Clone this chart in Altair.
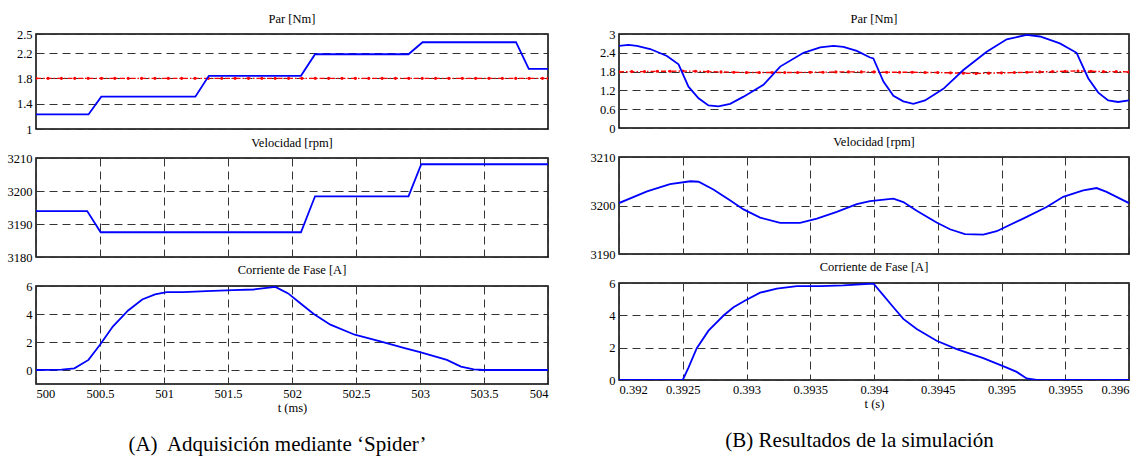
import altair as alt
import pandas as pd

SERIF = "Liberation Serif"
BLUE = "#0000ff"
RED = "#ff0000"

# ---------- (A) bench acquisition, time in ms ----------
ta_par = [500.0, 500.41, 500.51, 501.245, 501.35, 502.07, 502.18, 502.91, 503.02, 503.75, 503.85, 504.0]
par_a = [1.23, 1.23, 1.51, 1.51, 1.84, 1.84, 2.18, 2.18, 2.37, 2.37, 1.95, 1.95]

# torque set-point, flat, sampled by the logger
ta_ref = [500.0] + [round(500.094 + k * 0.1044, 4) for k in range(38)] + [504.0]
ref_a = [1.8] * len(ta_ref)

ta_vel = [500.0, 500.40, 500.505, 502.07, 502.18, 502.91, 503.01, 504.0]
vel_a = [3193.9, 3193.9, 3187.5, 3187.5, 3198.4, 3198.4, 3208.1, 3208.1]

ta_cur = [500.0, 500.2, 500.3, 500.41, 500.5, 500.6, 500.72, 500.83, 500.93, 501.02,
          501.15, 501.33, 501.54, 501.70, 501.87, 501.97, 502.06, 502.17, 502.30, 502.49,
          502.69, 502.88, 503.0, 503.21, 503.32, 503.42, 503.5, 504.0]
cur_a = [0.0, 0.02, 0.12, 0.72, 1.8, 3.1, 4.25, 5.04, 5.4, 5.56,
         5.56, 5.63, 5.7, 5.75, 5.94, 5.47, 4.8, 4.0, 3.24, 2.52,
         2.04, 1.56, 1.27, 0.72, 0.24, 0.05, 0.0, 0.0]

# ---------- (B) simulation, time in s ----------
tb_par = [0.392, 0.392075, 0.39214, 0.392245, 0.392376, 0.392467, 0.392545, 0.392624, 0.392702, 0.39278,
          0.392872, 0.392977, 0.393133, 0.393264, 0.393447, 0.393578, 0.393682, 0.39376, 0.393865, 0.393969,
          0.393995, 0.394074, 0.394152, 0.39423, 0.394309, 0.3944, 0.394544, 0.394701, 0.394884, 0.395041,
          0.395197, 0.395302, 0.395458, 0.395589, 0.39568, 0.395759, 0.395837, 0.395915, 0.396]
par_b = [2.62, 2.65, 2.62, 2.52, 2.30, 2.03, 1.32, 0.95, 0.72, 0.69,
         0.77, 1.0, 1.38, 1.96, 2.40, 2.57, 2.62, 2.59, 2.46, 2.25,
         2.22, 1.48, 1.03, 0.85, 0.77, 0.88, 1.25, 1.85, 2.43, 2.83,
         2.97, 2.92, 2.70, 2.40, 1.59, 1.13, 0.88, 0.83, 0.88]

tb_ref = [round(0.392 + k * 0.0001, 4) for k in range(41)]
ref_b = [1.79, 1.80, 1.80, 1.81, 1.81, 1.82, 1.81, 1.80, 1.79, 1.78,
         1.77, 1.77, 1.77, 1.77, 1.77, 1.78, 1.78, 1.79, 1.79, 1.79,
         1.79, 1.78, 1.78, 1.78, 1.77, 1.77, 1.76, 1.75, 1.74, 1.75,
         1.76, 1.77, 1.78, 1.79, 1.80, 1.81, 1.82, 1.81, 1.80, 1.80, 1.79]

tb_vel = [0.392, 0.39222, 0.3924, 0.39256, 0.392624, 0.39274, 0.39287, 0.392977, 0.393107, 0.393264,
          0.39342, 0.393552, 0.393708, 0.393865, 0.393969, 0.394152, 0.39423, 0.394335, 0.394491, 0.394596,
          0.394713, 0.394857, 0.394962, 0.39517, 0.395354, 0.395484, 0.395641, 0.395746, 0.395824, 0.396]
vel_b = [3200.5, 3202.9, 3204.4, 3205.0, 3204.9, 3203.3, 3201.1, 3199.2, 3197.5, 3196.4,
         3196.4, 3197.3, 3198.7, 3200.3, 3200.9, 3201.4, 3200.7, 3198.9, 3196.5, 3195.1,
         3194.1, 3194.0, 3194.7, 3197.3, 3199.7, 3201.8, 3203.1, 3203.6, 3202.8, 3200.5]

tb_cur = [0.392, 0.3925, 0.392545, 0.39261, 0.392702, 0.39282, 0.392898, 0.39299, 0.393107, 0.393238,
          0.393395, 0.393578, 0.39376, 0.393995, 0.394074, 0.394152, 0.39423, 0.394335, 0.394491, 0.394649,
          0.394857, 0.395041, 0.395119, 0.395197, 0.395276, 0.396]
cur_b = [0.0, 0.0, 0.77, 1.97, 3.05, 3.99, 4.5, 4.92, 5.4, 5.65,
         5.81, 5.81, 5.85, 5.97, 5.23, 4.5, 3.78, 3.16, 2.43, 1.91,
         1.35, 0.77, 0.5, 0.1, 0.0, 0.0]

xa_ticks = [500, 500.5, 501, 501.5, 502, 502.5, 503, 503.5, 504]
xb_ticks = [0.392, 0.3925, 0.393, 0.3935, 0.394, 0.3945, 0.395, 0.3955, 0.396]

GRID = dict(grid=True, gridColor="#333333", gridDash=[8, 5], gridWidth=1, gridOpacity=1)


def panel(t, v, title, xdom, xticks, ydom, yticks, w, h, row, toff, yfmt="~g", xtitle=None, ref=None):
    base = pd.DataFrame({"t": t, "v": v})
    if row == 0:
        xaxis = None
    elif row == 1:
        xaxis = alt.Axis(labels=False, ticks=False, domain=False, values=xticks, title=None, **GRID)
    else:
        xaxis = alt.Axis(values=xticks, ticks=False, domain=False, title=xtitle, format="~g",
                         labelPadding=3, titlePadding=2, **GRID)
    yaxis = alt.Axis(values=yticks, ticks=False, domain=False, title=None, format=yfmt,
                     labelPadding=4, **GRID)
    xs = alt.Scale(domain=xdom, nice=False, zero=False)
    ys = alt.Scale(domain=ydom, nice=False, zero=False)
    enc = dict(x=alt.X("t:Q", scale=xs, axis=xaxis), y=alt.Y("v:Q", scale=ys, axis=yaxis))
    layers = []
    if ref is not None:
        rt, rv = ref
        rdf = pd.DataFrame({"t": rt, "v": rv})
        layers.append(
            alt.Chart(rdf).mark_line(color=RED, strokeWidth=1.4, strokeDash=[5, 2, 1.5, 2], clip=True)
            .encode(**enc)
        )
        layers.append(
            alt.Chart(rdf).mark_point(color=RED, filled=True, size=10, opacity=1, clip=True)
            .encode(**enc)
        )
    layers.append(alt.Chart(base).mark_line(color=BLUE, strokeWidth=1.8, clip=True).encode(**enc))
    return alt.layer(*layers).properties(
        width=w, height=h,
        title=alt.TitleParams(title, offset=toff, fontSize=12.5, font=SERIF, fontWeight="normal"),
    )


WA, WB = 512, 510
xa_dom, xb_dom = [500, 504], [0.392, 0.396]

col_a = alt.vconcat(
    panel(ta_par, par_a, "Par [Nm]", xa_dom, xa_ticks, [1, 2.5], [1, 1.4, 1.8, 2.2, 2.5], WA, 95, 0, 3,
          ref=(ta_ref, ref_a)),
    panel(ta_vel, vel_a, "Velocidad [rpm]", xa_dom, xa_ticks, [3180, 3210], [3180, 3190, 3200, 3210],
          WA, 99, 1, 3, yfmt="d"),
    panel(ta_cur, cur_a, "Corriente de Fase [A]", xa_dom, xa_ticks, [-1, 6], [0, 2, 4, 6], WA, 98, 2, 4,
          xtitle="t (ms)"),
    spacing=29,
    bounds="flush",
    title=alt.TitleParams("(A)\u00a0 Adquisición mediante ‘Spider’", orient="bottom", anchor="middle",
                          fontSize=21, font=SERIF, fontWeight="normal", offset=19),
)

col_b = alt.vconcat(
    panel(tb_par, par_b, "Par [Nm]", xb_dom, xb_ticks, [0, 3], [0, 0.6, 1.2, 1.8, 2.4, 3], WB, 94, 0, 3,
          ref=(tb_ref, ref_b)),
    panel(tb_vel, vel_b, "Velocidad [rpm]", xb_dom, xb_ticks, [3190, 3210], [3190, 3200, 3210],
          WB, 97, 1, 3, yfmt="d"),
    panel(tb_cur, cur_b, "Corriente de Fase [A]", xb_dom, xb_ticks, [0, 6], [0, 2, 4, 6], WB, 97, 2, 4,
          xtitle="t (s)"),
    spacing=29,
    bounds="flush",
    title=alt.TitleParams("(B) Resultados de la simulación", orient="bottom", anchor="middle",
                          fontSize=21, font=SERIF, fontWeight="normal", offset=19),
)

chart = (
    alt.hconcat(col_a, col_b, spacing=40)
    .properties(padding={"left": 6, "top": 11, "right": 6, "bottom": 2}, background="white")
    .configure_view(stroke="black", strokeWidth=1.5)
    .configure_axis(labelFont=SERIF, labelFontSize=12.5, labelColor="black",
                    titleFont=SERIF, titleFontSize=12.5, titleFontWeight="normal", titleColor="black")
    .configure_title(color="black")
)

chart.save("out.html", embed_options={"renderer": "svg", "actions": False})
